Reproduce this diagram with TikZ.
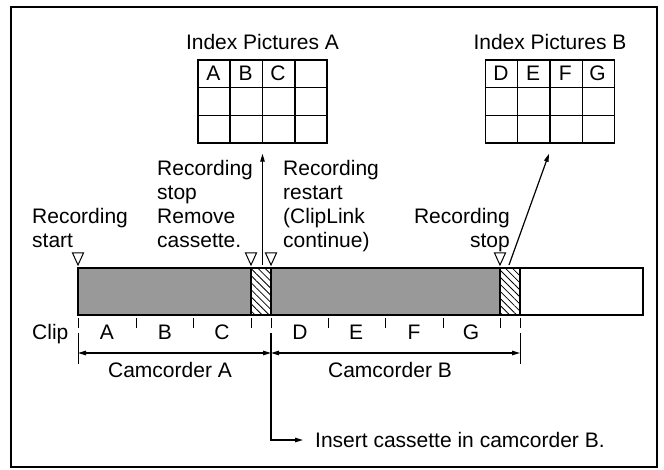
\documentclass[tikz,border=0pt]{standalone}
\usepackage{fontspec}
\setmainfont{Liberation Sans}
\usepackage{tikz}
\usetikzlibrary{arrows.meta, positioning, patterns.meta, calc}
\definecolor{tapegray}{RGB}{153,153,153}

\begin{document}
\begin{tikzpicture}[x=1pt, y=-1pt,
    txt/.style={font=\fontsize{21}{24}\selectfont, inner sep=0pt},
    note/.style={txt, align=left, anchor=north west},
    tape/.style={draw, line width=1.8pt},
    recorded/.style={tape, fill=tapegray},
    hatched/.style={tape, pattern={Lines[angle=-45, distance=5pt, line width=0.8pt]}},
    idxgrid/.style={draw, line width=1.5pt, minimum width=129pt, minimum height=83pt, inner sep=0pt},
    gridline/.style={line width=1.5pt},
    arr/.style={-{Triangle[length=8pt, width=4.5pt]}, line width=1.2pt},
    dimline/.style={{Triangle[length=8pt, width=4.5pt]}-{Triangle[length=8pt, width=4.5pt]}, line width=1.2pt},
    cliptick/.style={line width=1pt},
    pics/trimark/.style={code={\draw[line width=1pt] (-5.5,-15) -- (5.5,-15) -- (0,-3) -- cycle;}}
]
\useasboundingbox (0,0) rectangle (664,470);
\draw[line width=1.2pt] (11,7) rectangle (657,467);

% Index picture grids
\node[idxgrid] (gridA) at (262.5,101.5) {};
\node[idxgrid] (gridB) at (550,101.5) {};
\foreach \g in {gridA,gridB} {
    \foreach \i in {1,2,3}
        \draw[gridline] ($(\g.north west)!\i/4!(\g.north east)$) -- ($(\g.south west)!\i/4!(\g.south east)$);
    \foreach \j in {1,2}
        \draw[gridline] ($(\g.north west)!\j/3!(\g.south west)$) -- ($(\g.north east)!\j/3!(\g.south east)$);
}
\foreach \l [count=\i] in {A,B,C}
    \node[txt] (idx\l) at ($(gridA.north west)+({(\i-0.5)*129/4},{83/6})$) {\l};
\foreach \l [count=\i] in {D,E,F,G}
    \node[txt] (idx\l) at ($(gridB.north west)+({(\i-0.5)*129/4},{83/6})$) {\l};
\node[txt, anchor=base] (titleA) at (262.5,50) {Index Pictures A};
\node[txt, anchor=base] (titleB) at (550,50) {Index Pictures B};

% Tape
\draw[tape] (520,268) rectangle (643,315);
\draw[recorded] (78,268) rectangle (251,315);
\draw[hatched] (251,268) rectangle (271,315);
\draw[recorded] (271,268) rectangle (500,315);
\draw[hatched] (500,268) rectangle (520,315);
\foreach \x in {78,251,271,500}
    \pic at (\x,268) {trimark};

% Labels above the tape
\node[note] (recstart) at (32,208) {Recording\\start};
\node[note] (recstopA) at (157,160) {Recording\\stop\\Remove\\cassette.};
\node[note] (restart) at (283,160) {Recording\\restart\\(ClipLink\\continue)};
\node[note, align=right, anchor=north east] (recstopB) at (510,208) {Recording\\stop};

% Index arrows
\coordinate (stopA) at (262.5,265);
\coordinate (stopB) at (509,265);
\draw[arr] (stopA) -- ($(gridA.south)+(0,10)$);
\draw[arr] (stopB) -- ($(gridB.south)+(-1,10)$);

% Clips
\foreach \x in {78,136,193,251,271,328,385,443,500,520}
    \draw[cliptick] (\x,318) -- (\x,328);
\node[txt, anchor=base west] (clip) at (32,339.5) {Clip};
\foreach \l/\x in {A/107, B/165, C/222, D/300, E/356, F/414, G/471}
    \node[txt] (clip\l) at (\x,332) {\l};

% Camcorder spans
\coordinate (extA) at (78,333);
\coordinate (extM) at (271,333);
\coordinate (extB) at (520,333);
\draw[cliptick] (extA) -- ++(0,31);
\draw[cliptick] (extB) -- ++(0,31);
\coordinate (dA) at (78,353);
\coordinate (dM) at (271,353);
\coordinate (dB) at (520,353);
\draw[dimline] (dA) -- (dM);
\draw[dimline] (dM) -- (dB);
\node[txt] (camA) at (170,370) {Camcorder A};
\node[txt] (camB) at (390,370) {Camcorder B};

% Insert cassette
\node[txt, anchor=west] (insert) at (315,440) {Insert cassette in camcorder B.};
\draw[arr, shorten >=12pt] (extM) |- (insert.west);
\end{tikzpicture}
\end{document}
